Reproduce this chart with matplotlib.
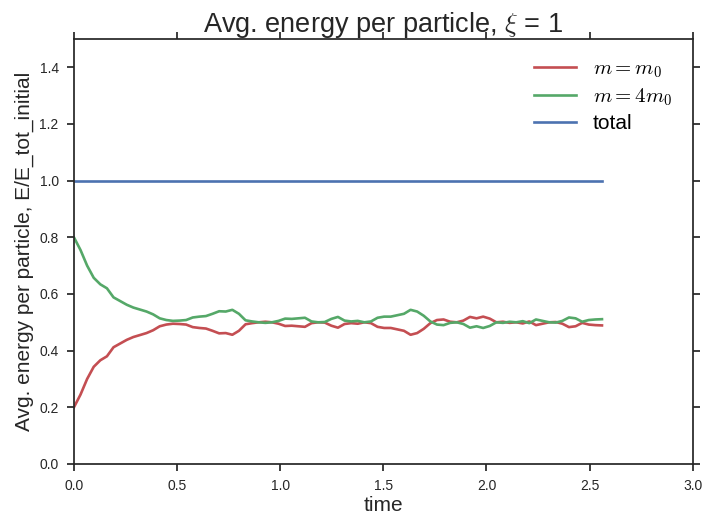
import matplotlib
matplotlib.use("Agg")
import matplotlib.pyplot as plt
from matplotlib.ticker import FormatStrFormatter

time = [0.000, 0.032, 0.064, 0.096, 0.128, 0.160, 0.192, 0.224, 0.256, 0.288,
        0.320, 0.352, 0.384, 0.416, 0.448, 0.480, 0.512, 0.544, 0.576, 0.608,
        0.640, 0.672, 0.704, 0.736, 0.768, 0.800, 0.832, 0.864, 0.896, 0.928,
        0.960, 0.992, 1.024, 1.056, 1.088, 1.120, 1.152, 1.184, 1.216, 1.248,
        1.280, 1.312, 1.344, 1.376, 1.408, 1.440, 1.472, 1.504, 1.536, 1.568,
        1.600, 1.632, 1.664, 1.696, 1.728, 1.760, 1.792, 1.824, 1.856, 1.888,
        1.920, 1.952, 1.984, 2.016, 2.048, 2.080, 2.112, 2.144, 2.176, 2.208,
        2.240, 2.272, 2.304, 2.336, 2.368, 2.400, 2.432, 2.464, 2.496, 2.528,
        2.560]

light = [0.200, 0.245, 0.300, 0.343, 0.366, 0.380, 0.412, 0.425, 0.438, 0.448,
         0.455, 0.462, 0.472, 0.486, 0.492, 0.495, 0.494, 0.492, 0.483, 0.480,
         0.478, 0.470, 0.461, 0.462, 0.456, 0.470, 0.493, 0.497, 0.500, 0.502,
         0.500, 0.495, 0.487, 0.488, 0.486, 0.484, 0.497, 0.500, 0.499, 0.488,
         0.481, 0.494, 0.497, 0.495, 0.500, 0.497, 0.484, 0.480, 0.480, 0.475,
         0.470, 0.456, 0.462, 0.477, 0.497, 0.508, 0.510, 0.502, 0.500, 0.506,
         0.519, 0.514, 0.520, 0.513, 0.500, 0.502, 0.498, 0.500, 0.496, 0.503,
         0.490, 0.495, 0.500, 0.501, 0.495, 0.483, 0.486, 0.498, 0.492, 0.490,
         0.489]

heavy = [0.800, 0.755, 0.700, 0.657, 0.634, 0.620, 0.588, 0.575, 0.562, 0.552,
         0.545, 0.538, 0.528, 0.514, 0.508, 0.505, 0.506, 0.508, 0.517, 0.520,
         0.522, 0.530, 0.539, 0.538, 0.544, 0.530, 0.507, 0.503, 0.500, 0.498,
         0.500, 0.505, 0.513, 0.512, 0.514, 0.516, 0.503, 0.500, 0.501, 0.512,
         0.519, 0.506, 0.503, 0.505, 0.500, 0.503, 0.516, 0.520, 0.520, 0.525,
         0.530, 0.544, 0.538, 0.523, 0.503, 0.492, 0.490, 0.498, 0.500, 0.494,
         0.481, 0.486, 0.480, 0.487, 0.500, 0.498, 0.502, 0.500, 0.504, 0.497,
         0.510, 0.505, 0.500, 0.499, 0.505, 0.517, 0.514, 0.502, 0.508, 0.510,
         0.511]

total = [1.0] * len(time)

labels = [r"$m = m_0$", r"$m = 4m_0$", "total"]
colors = ["#C44E52", "#55A868", "#4C72B0"]

plt.rcParams["font.family"] = ["Liberation Sans", "DejaVu Sans"]
plt.rcParams["mathtext.fontset"] = "cm"

fig = plt.figure(figsize=(7.04, 5.19), dpi=100)
ax = fig.add_axes([0.105, 0.106, 0.879, 0.819])

for y, lab, c in zip([light, heavy, total], labels, colors):
    ax.plot(time, y, color=c, lw=1.9, label=lab)

ax.set_xlim(0, 3)
ax.set_ylim(0, 1.5)
ax.set_xticks([0, 0.5, 1.0, 1.5, 2.0, 2.5, 3.0])
ax.set_yticks([0, 0.2, 0.4, 0.6, 0.8, 1.0, 1.2, 1.4])
ax.xaxis.set_major_formatter(FormatStrFormatter("%.1f"))
ax.yaxis.set_major_formatter(FormatStrFormatter("%.1f"))
ax.tick_params(direction="out", length=5, width=1.25, color="#262626",
               labelsize=10, labelcolor="#262626",
               top=True, right=True, pad=6)
for s in ax.spines.values():
    s.set_color("#262626")
    s.set_linewidth(1.25)

ax.set_title(r"Avg. energy per particle, $\xi$ = 1", fontsize=19.5, color="#262626", pad=5)
ax.set_xlabel("time", fontsize=15, color="#262626", labelpad=2)
ax.set_ylabel("Avg. energy per particle, E/E_tot_initial", fontsize=15, color="#262626")

ax.legend(loc="upper right", frameon=False, fontsize=15, labelspacing=0.3,
          handlelength=2.0, borderaxespad=0.6)

fig.savefig("out.png", dpi=100)
